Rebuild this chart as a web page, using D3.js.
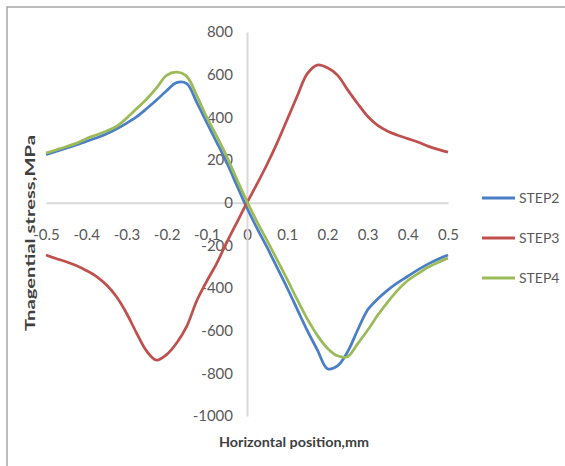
<!DOCTYPE html>
<html>
<head>
<meta charset="utf-8">
<script src="https://cdn.jsdelivr.net/npm/d3@7"></script>
<style>
  body { margin: 0; background: #fff; }
  text { font-family: Lato, "Open Sans", sans-serif; }
</style>
</head>
<body>
<svg class="chart"></svg>
<script>
const width = 565,
  height = 466;

// horizontal position, mm
const positions = [
  -0.5, -0.475, -0.45, -0.425, -0.4, -0.375, -0.35, -0.325, -0.3, -0.275,
  -0.25, -0.225, -0.2, -0.175, -0.15, -0.125, -0.1, -0.075, -0.05, -0.025,
  0, 0.025, 0.05, 0.075, 0.1, 0.125, 0.15, 0.175, 0.2, 0.225,
  0.25, 0.275, 0.3, 0.325, 0.35, 0.375, 0.4, 0.425, 0.45, 0.475, 0.5
];
const step2 = [
  225, 240, 255, 270, 287, 303, 322, 345, 372, 402,
  440, 481, 525, 563, 558, 470, 375, 282, 186, 80,
  -25, -120, -210, -305, -400, -500, -600, -690, -778, -765,
  -700, -598, -503, -452, -410, -375, -345, -315, -288, -265, -245
];
const step3 = [
  -245, -262, -277, -295, -318, -345, -385, -440, -517, -610,
  -695, -738, -712, -658, -580, -460, -368, -283, -185, -92,
  0, 88, 180, 280, 390, 500, 605, 645, 632, 598,
  530, 465, 405, 362, 335, 316, 300, 284, 265, 250, 237
];
const step4 = [
  232, 247, 262, 278, 300, 317, 335, 357, 395, 440,
  485, 538, 597, 612, 592, 502, 400, 310, 215, 108,
  5, -90, -178, -268, -360, -455, -545, -622, -682, -718,
  -722, -662, -598, -528, -466, -410, -365, -333, -303, -280, -260
];
const seriesNames = ["STEP2", "STEP3", "STEP4"];
const seriesColors = ["#4a7ec6", "#c0504d", "#9bbb59"];
const xTicks = [-0.5, -0.4, -0.3, -0.2, -0.1, 0, 0.1, 0.2, 0.3, 0.4, 0.5];
const yTicks = [-1000, -800, -600, -400, -200, 0, 200, 400, 600, 800];
const xTitle = "Horizontal position,mm";
const yTitle = "Tnagential stress,MPa";

const series = [step2, step3, step4].map((vals, i) => ({
  name: seriesNames[i],
  color: seriesColors[i],
  values: vals.map((v, j) => ({ x: positions[j], y: v }))
}));

let svg = d3.select(".chart")
  .attr("width", width)
  .attr("height", height);

// outer frame
svg.append("rect")
  .attr("x", 7)
  .attr("y", 7)
  .attr("width", 620)
  .attr("height", 520)
  .attr("fill", "#fff")
  .attr("stroke", "#a6a6a6")
  .attr("stroke-width", 1.5);

let x = d3.scaleLinear()
  .domain([-0.5, 0.5])
  .range([46, 448]);
let y = d3.scaleLinear()
  .domain([-1000, 800])
  .range([416, 32]);

let xAxis = d3.axisBottom(x)
  .tickValues(xTicks)
  .tickFormat(d => String(+d.toFixed(1)))
  .tickSize(0)
  .tickPadding(27);
let yAxis = d3.axisLeft(y)
  .tickValues(yTicks)
  .tickFormat(d => String(d))
  .tickSize(0)
  .tickPadding(14);

function styleAxis(g) {
  g.select(".domain")
    .attr("stroke", "#d9d9d9")
    .attr("stroke-width", 2);
  g.selectAll("text")
    .attr("fill", "#595959")
    .style("font-size", "15px")
    .style("font-family", "Lato, sans-serif");
}

svg.append("g")
  .attr("transform", `translate(0, ${y(0)})`)
  .call(xAxis)
  .call(styleAxis);
svg.append("g")
  .attr("transform", `translate(${x(0)}, 0)`)
  .call(yAxis)
  .call(styleAxis);

let line = d3.line()
  .x(d => x(d.x))
  .y(d => y(d.y))
  .curve(d3.curveCatmullRom.alpha(0.5));

svg.append("g")
  .selectAll("path")
  .data(series)
  .join("path")
  .attr("d", d => line(d.values))
  .attr("fill", "none")
  .attr("stroke", d => d.color)
  .attr("stroke-width", 2.75)
  .attr("stroke-linejoin", "round");

// legend
let legend = svg.append("g")
  .selectAll("g")
  .data(series)
  .join("g")
  .attr("transform", (d, i) => `translate(482, ${198 + i * 40})`);
legend.append("line")
  .attr("x1", 0)
  .attr("x2", 33)
  .attr("stroke", d => d.color)
  .attr("stroke-width", 3);
legend.append("text")
  .attr("x", 37)
  .attr("dy", "0.35em")
  .attr("fill", "#595959")
  .style("font-size", "14px")
  .text(d => d.name);

// axis titles
svg.append("text")
  .attr("x", 294)
  .attr("y", 442)
  .attr("dy", "0.35em")
  .attr("text-anchor", "middle")
  .attr("fill", "#404040")
  .style("font-size", "13px")
  .style("font-weight", "bold")
  .attr("textLength", 150)
  .attr("lengthAdjust", "spacingAndGlyphs")
  .text(xTitle);
svg.append("text")
  .attr("transform", "translate(30, 233) rotate(-90)")
  .attr("dy", "0.35em")
  .attr("text-anchor", "middle")
  .attr("fill", "#404040")
  .style("font-size", "14px")
  .style("font-weight", "bold")
  .attr("textLength", 196)
  .attr("lengthAdjust", "spacingAndGlyphs")
  .text(yTitle);
</script>
</body>
</html>
